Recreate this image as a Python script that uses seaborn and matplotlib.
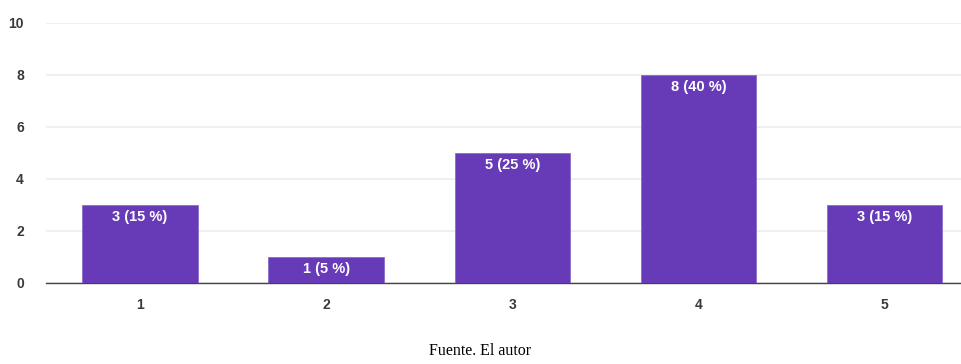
import matplotlib
matplotlib.use("Agg")
import matplotlib.pyplot as plt
import seaborn as sns
import pandas as pd

categories = ["1", "2", "3", "4", "5"]
counts = [3, 1, 5, 8, 3]
percents = [15, 5, 25, 40, 15]
y_ticks = [0, 2, 4, 6, 8, 10]

df = pd.DataFrame({"cat": categories, "n": counts})

sns.set_theme(style="white")
plt.rcParams["font.family"] = ["Liberation Sans", "DejaVu Sans"]

fig = plt.figure(figsize=(9.61, 3.64), dpi=100)
ax = fig.add_axes([46 / 961, 81.3 / 364, 1 - 46 / 961, (341.3 - 81.3) / 364])

sns.barplot(data=df, x="cat", y="n", color="#673ab7", saturation=1,
            width=0.62, ax=ax, zorder=3, edgecolor="#8a6cc9", linewidth=0.6)

ax.set_ylim(0, 10)
ax.set_xlim(-0.505, 4.41)
ax.set_yticks(y_ticks)
ax.set_yticklabels([str(t) for t in y_ticks])
ax.grid(axis="y", color="#eeeeee", linewidth=1.2, zorder=0)
ax.set_axisbelow(True)
for side in ["top", "right", "left"]:
    ax.spines[side].set_visible(False)
ax.spines["bottom"].set_color("#444444")
ax.spines["bottom"].set_linewidth(1.0)
ax.set_xlabel("")
ax.set_ylabel("")
ax.tick_params(axis="both", length=0, labelsize=10, colors="#3a3a3a")
ax.tick_params(axis="y", pad=16)
ax.tick_params(axis="x", pad=11)
for lbl in ax.get_xticklabels() + ax.get_yticklabels():
    lbl.set_fontweight("bold")

for i, (n, p) in enumerate(zip(counts, percents)):
    ax.annotate(f"{n} ({p} %)", xy=(i, n), xytext=(0, -3.5),
                textcoords="offset points", ha="center", va="top",
                color="white", fontsize=10.5, fontweight="bold")

fig.text(0.5, 13 / 364, "Fuente. El autor", ha="center", va="center",
         fontsize=11.5, family=["Liberation Serif", "DejaVu Serif"], color="black")

fig.savefig("out.png", dpi=100)
